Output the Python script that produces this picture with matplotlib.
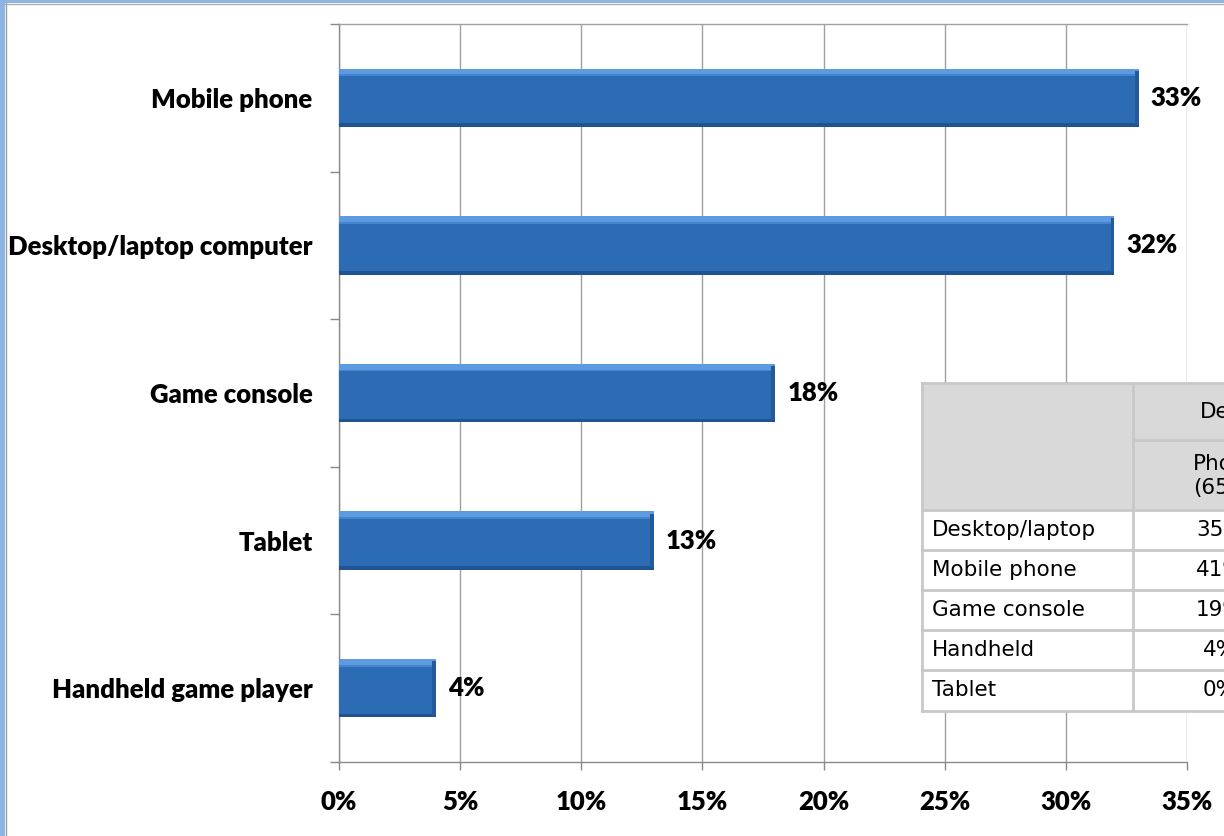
import matplotlib
matplotlib.use("Agg")
import matplotlib.pyplot as plt
from matplotlib.patches import Rectangle

categories = ["Mobile phone", "Desktop/laptop computer", "Game console",
              "Tablet", "Handheld game player"]
shares = [33, 32, 18, 13, 4]
xticks = [0, 5, 10, 15, 20, 25, 30, 35]

table_rows = ["Desktop/laptop", "Mobile phone", "Game console", "Handheld", "Tablet"]
table_vals = ["35%", "41%", "19%", "4%", "0%"]
table_head = ["Devices", "Phone\n(65)"]

W, H = 1224, 836
BAR, BAR_TOP, BAR_BOT, BAR_SIDE = "#2b6cb4", "#5c9be0", "#1f5391", "#24599a"
GRIDC = "#a0a0a0"
LABEL_FONT = ["Lato", "DejaVu Sans"]
LABEL_W = 800
LABEL_SZ = 18.5
TABLE_SZ = 15.5

fig = plt.figure(figsize=(W / 100, H / 100), dpi=100)
fig.patch.set_facecolor("white")


def fx(px):
    return px / W


def fy(py):
    return 1 - py / H


# frame of the chart object: blue band on left and top
fig.add_artist(Rectangle((0, 0), fx(5), 1, transform=fig.transFigure,
                         color="#8db4e3", lw=0))
fig.add_artist(Rectangle((0, fy(3)), 1, fy(0) - fy(3), transform=fig.transFigure,
                         color="#8db4e3", lw=0))
fig.add_artist(plt.Line2D([fx(5.5), fx(5.5)], [0, fy(3)], transform=fig.transFigure,
                          color="#9a9a9a", lw=1))
fig.add_artist(plt.Line2D([fx(5), 1], [fy(3.5), fy(3.5)], transform=fig.transFigure,
                          color="#b0b0b0", lw=1))

ax = fig.add_axes([fx(339), fy(762), fx(1187) - fx(339), fy(24) - fy(762)])
y = list(range(len(categories)))
h = 0.395

ax.barh(y, shares, height=h, color=BAR, zorder=3)
# bevel: lighter top strip, darker bottom and right strips
ax.barh([v - h / 2 + 0.02 for v in y], shares, height=0.04, color=BAR_TOP, zorder=4)
ax.barh([v - h / 2 + 0.045 for v in y], shares, height=0.012, color="#4585cf", zorder=4)
ax.barh([v + h / 2 - 0.012 for v in y], shares, height=0.024, color=BAR_BOT, zorder=4)
ax.barh(y, [0.15] * len(shares), left=[s - 0.15 for s in shares], height=h - 0.03,
        color=BAR_SIDE, zorder=5)

for yi, s in zip(y, shares):
    ax.text(s + 0.5, yi, f"{s}%", va="center", ha="left", fontsize=LABEL_SZ,
            fontweight=LABEL_W, family=LABEL_FONT, zorder=6)

ax.set_xlim(0, 35)
ax.set_ylim(len(categories) - 0.5, -0.5)
ax.set_xticks(xticks)
ax.set_xticklabels([f"{t}%" for t in xticks], fontsize=LABEL_SZ, fontweight=LABEL_W,
                   family=LABEL_FONT)
ax.set_yticks(y)
ax.set_yticklabels(categories, fontsize=LABEL_SZ, fontweight=LABEL_W, family=LABEL_FONT)
ax.set_yticks([v - 0.5 for v in range(len(categories) + 1)], minor=True)
ax.tick_params(axis="y", which="major", length=0, pad=19)
ax.tick_params(axis="y", which="minor", length=6.5, color="#888888", width=1)
ax.tick_params(axis="x", which="major", length=6, color="#888888", width=1,
               direction="out", pad=14)
ax.grid(axis="x", color=GRIDC, lw=1, zorder=0)
ax.set_axisbelow(True)
for s in ("left", "bottom", "top"):
    ax.spines[s].set_color("#8a8a8a")
    ax.spines[s].set_linewidth(1)
ax.spines["top"].set_color(GRIDC)
ax.spines["right"].set_visible(False)

# data table overlapping the lower right of the plot
tx0, tx1, tx2 = 922, 1133, 1300
ty = [383, 440, 510, 550, 590, 630, 670, 711]
grey, line = "#d9d9d9", "#c8c8c8"
fig.add_artist(Rectangle((fx(tx0), fy(ty[2])), fx(tx2) - fx(tx0), fy(ty[0]) - fy(ty[2]),
                         transform=fig.transFigure, facecolor=grey, edgecolor="none",
                         zorder=10))
fig.add_artist(Rectangle((fx(tx0), fy(ty[-1])), fx(tx2) - fx(tx0), fy(ty[2]) - fy(ty[-1]),
                         transform=fig.transFigure, facecolor="white", edgecolor="none",
                         zorder=10))
for yy in [ty[0]] + ty[2:]:
    fig.add_artist(plt.Line2D([fx(tx0), fx(tx2)], [fy(yy), fy(yy)],
                              transform=fig.transFigure, color=line, lw=2, zorder=11))
fig.add_artist(plt.Line2D([fx(tx1), fx(tx2)], [fy(ty[1]), fy(ty[1])],
                          transform=fig.transFigure, color=line, lw=2, zorder=11))
for xx in (tx0, tx1):
    fig.add_artist(plt.Line2D([fx(xx), fx(xx)], [fy(ty[0]), fy(ty[-1])],
                              transform=fig.transFigure, color=line, lw=2, zorder=11))

fig.text(fx(1200), fy((ty[0] + ty[1]) / 2), table_head[0], fontsize=TABLE_SZ,
         ha="left", va="center", zorder=12)
fig.text(fx(1193), fy((ty[1] + ty[2]) / 2 + 1), table_head[1], fontsize=TABLE_SZ,
         ha="left", va="center", linespacing=1.2, zorder=12)
for i, (lab, val) in enumerate(zip(table_rows, table_vals)):
    yc = fy((ty[i + 2] + ty[i + 3]) / 2)
    fig.text(fx(932), yc, lab, fontsize=TABLE_SZ, ha="left", va="center", zorder=12)
    fig.text(fx(1220), yc, val, fontsize=TABLE_SZ, ha="center", va="center", zorder=12)

fig.savefig("out.png", dpi=100, facecolor="white")
